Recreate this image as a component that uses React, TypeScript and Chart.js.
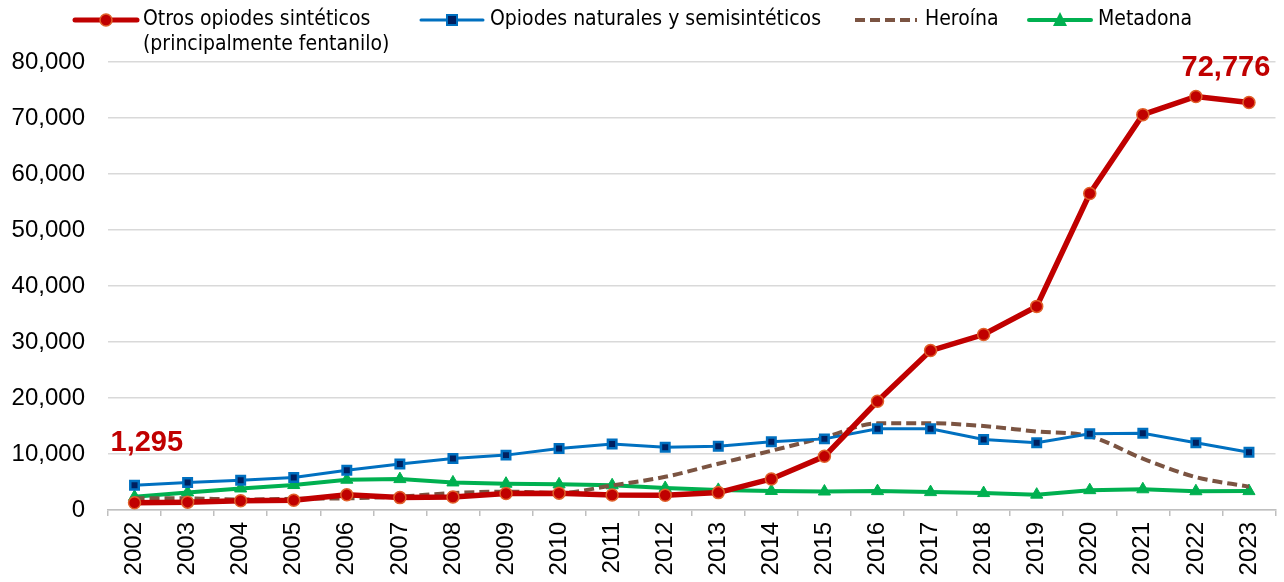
import React, { useEffect, useRef } from "react";
import { Chart, registerables } from "chart.js";

Chart.register(...registerables);

const years = ["2002","2003","2004","2005","2006","2007","2008","2009","2010","2011","2012","2013","2014","2015","2016","2017","2018","2019","2020","2021","2022","2023"];
const sinteticos = [1295,1400,1664,1742,2707,2213,2306,2946,3007,2666,2628,3105,5544,9580,19413,28466,31335,36359,56516,70601,73838,72776];
const naturales = [4416,4900,5300,5800,7100,8200,9200,9800,11000,11800,11200,11400,12200,12700,14500,14500,12600,12000,13600,13700,12000,10300];
const heroina = [2089,2080,1878,2009,2088,2399,3041,3278,3036,4397,5925,8257,10574,12989,15469,15482,14996,14019,13165,9173,5871,4172];
const metadona = [2358,3140,3845,4460,5406,5518,4924,4696,4577,4418,3932,3591,3400,3301,3373,3194,3023,2740,3543,3700,3350,3371];
const seriesNames = ["Otros opiodes sintéticos", "Opiodes naturales y semisintéticos", "Heroína", "Metadona"];
const yTicks = [0,10000,20000,30000,40000,50000,60000,70000,80000];

const NARROW = '"Liberation Sans Narrow", "DejaVu Sans Condensed", "Liberation Sans", sans-serif';
const SANS = '"Liberation Sans", Arial, sans-serif';

const legendPlugin = {
  id: "customLegend",
  afterDraw(chart: any) {
    const ctx = chart.ctx;
    ctx.save();
    ctx.font = `21px ${NARROW}`;
    ctx.fillStyle = "#000";
    ctx.textBaseline = "middle";
    ctx.textAlign = "left";
    const y = 20;
    // red
    ctx.strokeStyle = "#c00000"; ctx.lineWidth = 5; ctx.lineCap = "round";
    ctx.beginPath(); ctx.moveTo(75, y); ctx.lineTo(137, y); ctx.stroke();
    ctx.beginPath(); ctx.arc(106, y, 6, 0, Math.PI * 2); ctx.fillStyle = "#c00000"; ctx.fill();
    ctx.lineWidth = 1.5; ctx.strokeStyle = "#e0602a"; ctx.stroke();
    ctx.fillStyle = "#000";
    ctx.fillText(seriesNames[0], 143, y);
    ctx.fillText("(principalmente fentanilo)", 143, y + 25);
    // blue
    ctx.strokeStyle = "#0070c0"; ctx.lineWidth = 3;
    ctx.beginPath(); ctx.moveTo(421, y); ctx.lineTo(483, y); ctx.stroke();
    ctx.fillStyle = "#002060"; ctx.fillRect(447, y - 5, 10, 10);
    ctx.lineWidth = 2; ctx.strokeRect(447, y - 5, 10, 10);
    ctx.fillStyle = "#000";
    ctx.fillText(seriesNames[1], 490, y);
    // heroin
    ctx.strokeStyle = "#7b5442"; ctx.lineWidth = 4; ctx.lineCap = "butt";
    ctx.setLineDash([10, 5]);
    ctx.beginPath(); ctx.moveTo(855, y); ctx.lineTo(917, y); ctx.stroke();
    ctx.setLineDash([]);
    ctx.fillText(seriesNames[2], 925, y);
    // green
    ctx.strokeStyle = "#00b050"; ctx.lineWidth = 4; ctx.lineCap = "round";
    ctx.beginPath(); ctx.moveTo(1029, y); ctx.lineTo(1091, y); ctx.stroke();
    ctx.fillStyle = "#00b050";
    ctx.beginPath(); ctx.moveTo(1060, y - 8); ctx.lineTo(1067, y + 6); ctx.lineTo(1053, y + 6); ctx.closePath(); ctx.fill();
    ctx.fillStyle = "#000";
    ctx.fillText(seriesNames[3], 1098, y);

    // annotations
    const xs = chart.scales.x, ys = chart.scales.y;
    ctx.font = `bold 29px ${SANS}`;
    ctx.fillStyle = "#c00000";
    ctx.textAlign = "left";
    ctx.fillText("1,295", xs.getPixelForValue(0) - 24, ys.getPixelForValue(sinteticos[0]) - 60);
    ctx.textAlign = "center";
    const last = sinteticos.length - 1;
    ctx.fillText("72,776", xs.getPixelForValue(last) - 23, ys.getPixelForValue(sinteticos[last]) - 34);
    ctx.restore();
  },
};

export default function App() {
  const ref = useRef<HTMLCanvasElement>(null);
  useEffect(() => {
    if (!ref.current) return;
    const chart = new Chart(ref.current, {
      type: "line",
      data: {
        labels: years,
        datasets: [
          {
            label: seriesNames[3], data: metadona, borderColor: "#00b050", backgroundColor: "#00b050",
            borderWidth: 4, pointStyle: "triangle", pointRadius: 7, pointBorderWidth: 1, pointBorderColor: "#00b050", tension: 0, order: 4,
          },
          {
            label: seriesNames[2], data: heroina, borderColor: "#7b5442", borderWidth: 4, borderDash: [10, 5],
            pointRadius: 0, tension: 0.4, cubicInterpolationMode: "monotone", order: 3,
          },
          {
            label: seriesNames[1], data: naturales, borderColor: "#0070c0", backgroundColor: "#002060",
            borderWidth: 3, pointStyle: "rect", pointRadius: 6, pointBorderWidth: 2.5, pointBorderColor: "#0070c0", tension: 0, order: 2,
          },
          {
            label: seriesNames[0], data: sinteticos, borderColor: "#c00000", backgroundColor: "#c00000",
            borderWidth: 5.5, pointStyle: "circle", pointRadius: 6, pointBorderWidth: 1.5, pointBorderColor: "#e0602a", tension: 0, order: 1,
          },
        ],
      },
      options: {
        animation: false,
        responsive: true,
        maintainAspectRatio: false,
        layout: { padding: { top: 62, right: 5, left: 0, bottom: 0 } },
        plugins: { legend: { display: false }, tooltip: { enabled: false } },
        scales: {
          x: {
            offset: true,
            grid: { display: true, drawOnChartArea: false, drawTicks: true, tickLength: 6, color: "#bfbfbf", lineWidth: 1.5, offset: true },
            border: { display: true, color: "#bfbfbf", width: 1.5 },
            ticks: { maxRotation: 90, minRotation: 90, padding: 6, color: "#000", font: { family: SANS, size: 24 }, autoSkip: false },
            afterFit(scale: any) { scale.height = 72; },
          },
          y: {
            min: 0, max: 80000,
            afterBuildTicks(scale: any) { scale.ticks = yTicks.map((v) => ({ value: v })); },
            grid: { color: "#d9d9d9", lineWidth: 1.5, drawTicks: false },
            border: { display: false },
            ticks: {
              padding: 23, color: "#000", font: { family: SANS, size: 24 },
              callback: (v: any) => Number(v).toLocaleString("en-US"),
            },
            afterFit(scale: any) { scale.width = 108; },
          },
        },
      },
      plugins: [legendPlugin],
    });
    return () => chart.destroy();
  }, []);
  return (
    <div style={{ position: "fixed", left: 0, top: 0, width: 1284, height: 582, background: "#fff" }}>
      <canvas ref={ref} />
    </div>
  );
}
